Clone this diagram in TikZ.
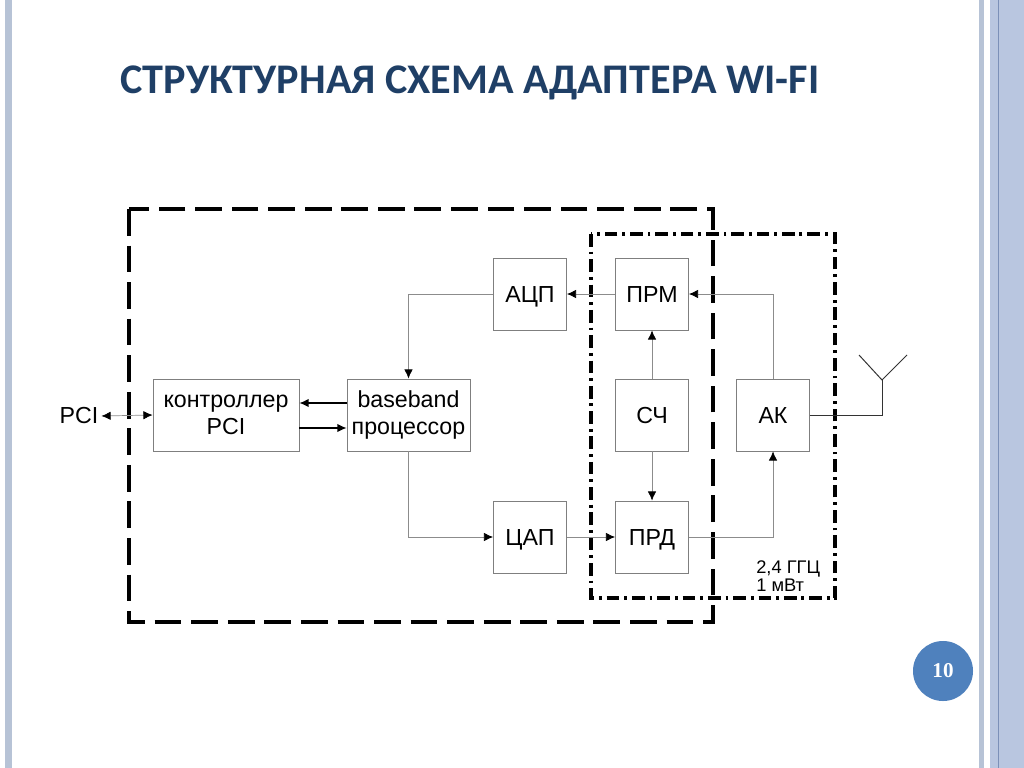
\documentclass[tikz,border=0pt]{standalone}
\usepackage{fontspec}
\setmainfont{Liberation Sans}
\newfontfamily\titlefont{Carlito}
\newfontfamily\numfont{Liberation Serif}
\usetikzlibrary{arrows.meta, positioning}
\definecolor{stripeblue}{HTML}{B7C3D6}
\definecolor{barblue}{HTML}{B9C6E0}
\definecolor{barline}{HTML}{7C90B8}
\definecolor{titleblue}{HTML}{1F3F66}
\definecolor{numblue}{HTML}{4F81BD}
\definecolor{boxgray}{HTML}{7F7F7F}
\definecolor{wiregray}{HTML}{8C8C8C}

\tikzset{
  block/.style={draw=boxgray, line width=0.6pt, minimum width=1.825cm,
    minimum height=1.8cm, inner sep=0pt, align=center,
    font=\fontsize{16.5}{19}\selectfont},
  oneline/.style={block, text height=11.8pt, text depth=0pt},
  wire/.style={draw=wiregray, line width=0.5pt, -{Latex[length=6.5pt,width=6pt,color=black]}},
  bus/.style={draw=black, line width=0.9pt, -{Latex[length=6.5pt,width=6pt]}},
  borderdash/.style={line width=2.2pt, dash pattern=on 19pt off 7pt},
  borderdashdot/.style={line width=2.2pt,
    dash pattern=on 9pt off 3.5pt on 2pt off 3.5pt},
}

\begin{document}
\begin{tikzpicture}[x=0.025cm, y=-0.025cm]
  \useasboundingbox (0,0) rectangle (1024,768);

  % Slide frame
  \fill[white] (0,0) rectangle (1024,768);
  \fill[stripeblue] (5,0) rectangle (12,768);
  \fill[stripeblue] (979,0) rectangle (984,768);
  \fill[barblue] (990,0) rectangle (1024,768);
  \draw[barline, line width=1pt] (998.5,0) -- (998.5,768);

  % Title
  \node[font=\titlefont\bfseries\fontsize{30}{36}\selectfont, text=titleblue]
    (title) at (470,83) {СТРУКТУРНАЯ СХЕМА АДАПТЕРА WI-FI};

  % Borders
  \draw[borderdash] (129,209) rectangle (713,622);
  \draw[borderdashdot] (591,234) rectangle (835,598);

  % Blocks
  \node[block, minimum width=3.65cm] (kontr) at (226,415) {контроллер\\PCI};
  \node[block, minimum width=3.075cm] (bb) at (408.5,415) {baseband\\процессор};
  \node[oneline] (acp) at (530,294) {АЦП};
  \node[oneline] (cap) at (530,537) {ЦАП};
  \node[oneline] (prm) at (652,294) {ПРМ};
  \node[oneline] (sch) at (652,415) {СЧ};
  \node[oneline] (prd) at (652,537) {ПРД};
  \node[oneline] (ak) at (773,415) {АК};

  % Labels
  \node[font=\fontsize{16.5}{19}\selectfont, inner sep=2pt] (pci) at (79,416) {PCI};
  \node[font=\fontsize{13}{13}\selectfont, align=left, anchor=west, inner sep=0pt]
    (band) at (756,576) {2,4 ГГЦ\\1 мВт};

  % Connectors
  \draw[wire, {Latex[length=6.5pt,width=6pt,color=black]}-{Latex[length=6.5pt,width=6pt,color=black]}]
    (pci.east) -- (kontr.west);
  \draw[bus] (bb.west |- 0,403) -- (kontr.east |- 0,403);
  \draw[bus] (kontr.east |- 0,428) -- (bb.west |- 0,428);
  \draw[wire] (acp.west) -| (bb.north);
  \draw[wire] (bb.south) |- (cap.west);
  \draw[wire] (prm.west) -- (acp.east);
  \draw[wire] (cap.east) -- (prd.west);
  \draw[wire] (sch.north) -- (prm.south);
  \draw[wire] (sch.south) -- (prd.north);
  \draw[wire] (ak.north) |- (prm.east);
  \draw[wire] (prd.east) -| (ak.south);

  % Antenna
  \coordinate (ant) at (882,380);
  \coordinate (antL) at (859,355);
  \coordinate (antR) at (907,355);
  \draw[black!80, line width=0.7pt] (ak.east) -| (ant);
  \draw[black!80, line width=0.7pt] (antL) -- (ant) -- (antR);

  % Page number
  \node[circle, fill=numblue, minimum size=1.5cm, inner sep=0pt, text=white,
    font=\numfont\bfseries\fontsize{15}{17}\selectfont] (num) at (943,671) {10};
\end{tikzpicture}
\end{document}
